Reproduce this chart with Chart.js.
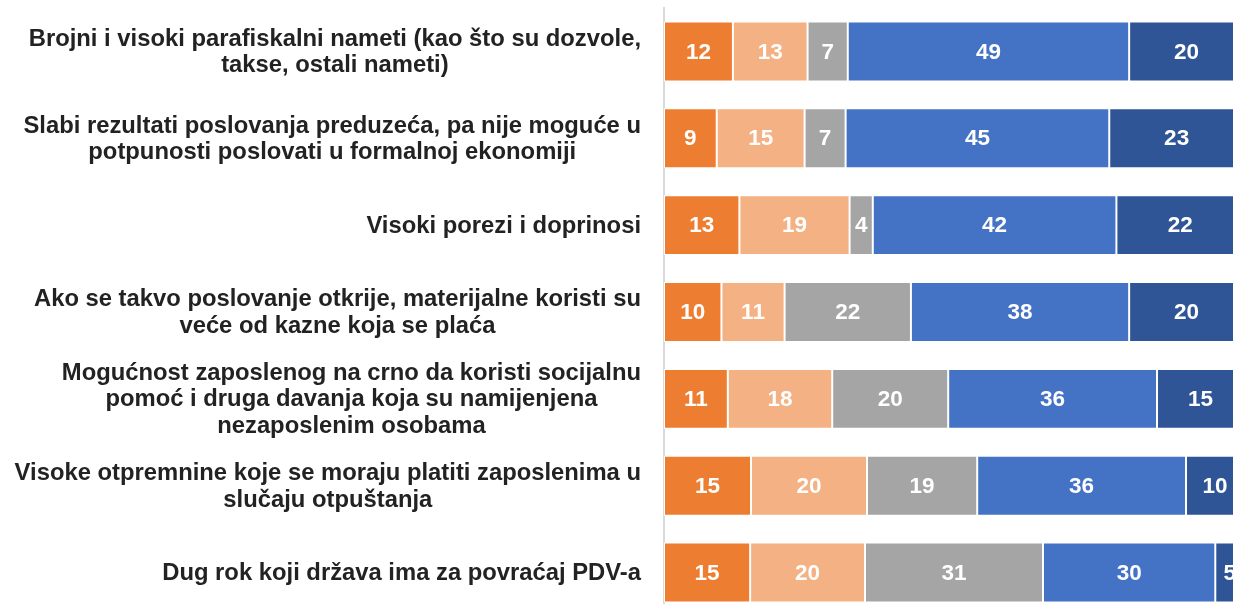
<!DOCTYPE html>
<html>
<head>
<meta charset="utf-8">
<script src="https://cdn.jsdelivr.net/npm/chart.js@4"></script>
<style>
html,body{margin:0;padding:0;background:#fff;overflow:hidden;}
#wrap{width:1244px;height:616px;position:relative;}
</style>
</head>
<body>
<div id="wrap"><canvas id="c"></canvas></div>
<script>
const categories = [
  ["Brojni i visoki parafiskalni nameti (kao što su dozvole,", "takse, ostali nameti)"],
  ["Slabi rezultati poslovanja preduzeća, pa nije moguće u", "potpunosti poslovati u formalnoj ekonomiji"],
  ["Visoki porezi i doprinosi"],
  ["Ako se takvo poslovanje otkrije, materijalne koristi su", "veće od kazne koja se plaća"],
  ["Mogućnost zaposlenog na crno da koristi socijalnu", "pomoć i druga davanja koja su namijenjena", "nezaposlenim osobama"],
  ["Visoke otpremnine koje se moraju platiti zaposlenima u", "slučaju otpuštanja"],
  ["Dug rok koji država ima za povraćaj PDV-a"]
];
const series1 = [12, 9, 13, 10, 11, 15, 15];
const series2 = [13, 15, 19, 11, 18, 20, 20];
const series3 = [7, 7, 4, 22, 20, 19, 31];
const series4 = [49, 45, 42, 38, 36, 36, 30];
const series5 = [20, 23, 22, 20, 15, 10, 5];
const seriesNames = ["Serija 1", "Serija 2", "Serija 3", "Serija 4", "Serija 5"];
const seriesColors = ["#ED7D31", "#F4B183", "#A5A5A5", "#4472C4", "#2F5597"];

const FONT = '"Liberation Sans", Arial, sans-serif';

const raw = [series1, series2, series3, series4, series5];
// 100% stacked: each row scaled to its own total
const rowTotals = categories.map((_, i) => raw.reduce((s, arr) => s + arr[i], 0));
const pct = raw.map(arr => arr.map((v, i) => v / rowTotals[i] * 100));

const valueLabels = {
  id: 'valueLabels',
  afterDatasetsDraw(chart) {
    const ctx = chart.ctx;
    ctx.save();
    ctx.font = 'bold 22.5px ' + FONT;
    ctx.fillStyle = '#ffffff';
    ctx.textAlign = 'center';
    ctx.textBaseline = 'middle';
    chart.data.datasets.forEach((ds, di) => {
      const meta = chart.getDatasetMeta(di);
      meta.data.forEach((el, i) => {
        const v = raw[di][i];
        const cx = (el.x + el.base) / 2;
        ctx.fillText(String(v), cx, el.y + 1);
      });
    });
    ctx.restore();
  }
};

const categoryLabels = {
  id: 'categoryLabels',
  afterDraw(chart) {
    const ctx = chart.ctx;
    const yScale = chart.scales.y;
    const right = 641;
    const lh = 26.5;
    ctx.save();
    ctx.font = 'bold 23.8px ' + FONT;
    ctx.fillStyle = '#222222';
    ctx.textAlign = 'center';
    ctx.textBaseline = 'middle';
    chart.data.labels.forEach((lines, i) => {
      const y = yScale.getPixelForValue(i) + 1;
      let maxW = 0;
      lines.forEach(l => { maxW = Math.max(maxW, ctx.measureText(l).width); });
      const cx = right - maxW / 2;
      const y0 = y - (lines.length - 1) * lh / 2;
      lines.forEach((l, k) => ctx.fillText(l, cx, y0 + k * lh));
    });
    ctx.restore();
  }
};

new Chart(document.getElementById('c'), {
  type: 'bar',
  data: {
    labels: categories,
    datasets: pct.map((d, k) => ({
      label: seriesNames[k],
      data: d,
      backgroundColor: seriesColors[k],
      borderColor: '#ffffff',
      borderWidth: 1,
      borderSkipped: false,
      categoryPercentage: 1,
      barPercentage: 0.69
    }))
  },
  options: {
    indexAxis: 'y',
    responsive: true,
    maintainAspectRatio: false,
    animation: false,
    layout: { padding: { top: 8, right: 0, bottom: 0, left: 0 } },
    plugins: { legend: { display: false }, tooltip: { enabled: false } },
    scales: {
      x: { stacked: true, min: 0, max: 100, display: false },
      y: {
        stacked: true,
        grid: { display: false },
        border: { display: true, color: '#D9D9D9', width: 2 },
        ticks: { display: false },
        afterFit(scale) { scale.width = 664; }
      }
    }
  },
  plugins: [valueLabels, categoryLabels]
});
</script>
</body>
</html>
